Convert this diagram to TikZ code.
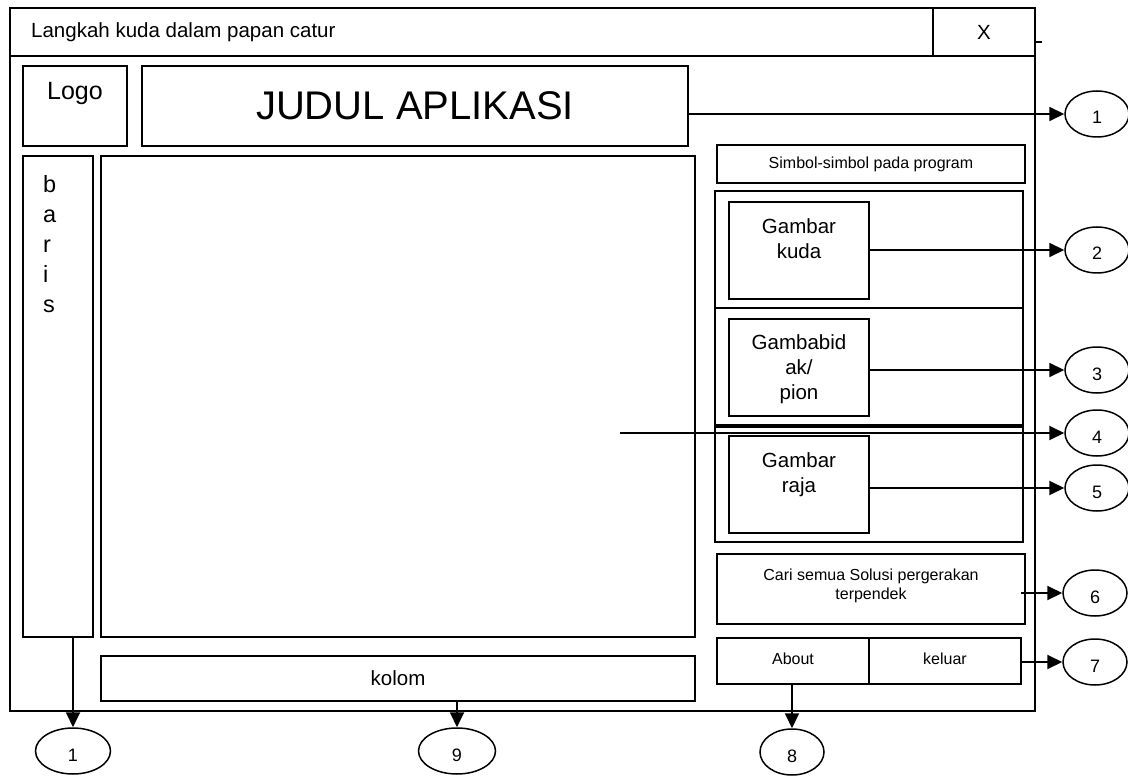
\documentclass[tikz,border=0pt]{standalone}
\usepackage{fontspec}
\setmainfont{Liberation Sans}
\usetikzlibrary{arrows.meta,shapes.geometric}
\tikzset{
	box/.style={draw,rectangle,line width=1.5pt,inner sep=0pt},
	numbered/.style={draw,ellipse,line width=1.5pt,minimum width=64pt,minimum height=46pt,inner sep=0pt,text height=20pt,text depth=0pt,font=\fontsize{18}{21}\selectfont},
	pointer/.style={-{Triangle[length=15pt,width=14pt]},line width=2pt},
	midtext/.style={font=\fontsize{20.5}{25}\selectfont},
	smalltext/.style={font=\fontsize{16}{19}\selectfont},
	intext/.style={inner sep=0pt,align=center}
}
\begin{document}
\begin{tikzpicture}[x=1pt,y=-1pt]
	\useasboundingbox (0,0) rectangle (1128,778);
	\node[box,minimum width=923pt,minimum height=48pt] (bar) at (471.5,32) {};
	\node[midtext,anchor=west,inner sep=0pt] (caption) at (31,32) {Langkah kuda dalam papan catur};
	\node[box,midtext,minimum width=102pt,minimum height=48pt] (close) at (984,32) {X};
	\node[box,minimum width=1025pt,minimum height=655pt] (win) at (522.5,383.5) {};
	\draw[line width=1.5pt] ([yshift=-10pt]close.east) -- ++(6,0);
	
	\node[box,minimum width=104pt,minimum height=80pt,label={[intext,below=17pt,font=\fontsize{25}{30}\selectfont]north:Logo}] (logo) at (75,106) {};
	\node[box,minimum width=546pt,minimum height=80pt,font=\fontsize{40}{48}\selectfont] (judul) at (415,106) {JUDUL APLIKASI};
	
	\node[box,minimum width=70pt,minimum height=481pt] (baris) at (58,396.5) {};
	\node[font=\fontsize{23.5}{30}\selectfont,align=left,anchor=north west,inner sep=0pt] (baristext) at (43,175) {b\\a\\r\\i\\s};
	\node[box,minimum width=594pt,minimum height=481pt] (board) at (398,396.5) {};
	\coordinate (boardmid) at (620,433);
	\node[box,midtext,minimum width=594pt,minimum height=45pt] (kolom) at (398,678.5) {kolom};
	
	\node[box,smalltext,minimum width=308pt,minimum height=38pt] (simbol) at (871,164) {Simbol-simbol pada program};
	\node[box,minimum width=308pt,minimum height=117pt] (panela) at (869,249.5) {};
	\node[box,minimum width=308pt,minimum height=117pt] (panelb) at (869,366.5) {};
	\node[box,minimum width=308pt,minimum height=115pt] (panelc) at (869,484.5) {};
	\node[box,minimum width=140pt,minimum height=97pt,label={[intext,midtext,below=17pt]north:Gambar\\kuda}] (kuda) at (799,250.5) {};
	\node[box,minimum width=140pt,minimum height=97pt,label={[intext,midtext,below=16pt]north:Gambabid\\ak/\\pion}] (pion) at (799,367.5) {};
	\node[box,minimum width=140pt,minimum height=97pt,label={[intext,midtext,below=17pt]north:Gambar\\raja}] (raja) at (799,484.5) {};
	\node[box,minimum width=308pt,minimum height=70pt,label={[intext,smalltext,below=15pt]north:Cari semua Solusi pergerakan\\terpendek}] (cari) at (871,589) {};
	\coordinate (cariend) at (1021,593);
	\node[box,smalltext,minimum width=152pt,minimum height=46pt,text height=6.5pt,text depth=0pt] (about) at (793,661) {About};
	\node[box,smalltext,minimum width=152pt,minimum height=46pt,text height=6.5pt,text depth=0pt] (keluar) at (945,661) {keluar};
	
	\node[numbered] (n1) at (1097,114) {1};
	\node[numbered] (n2) at (1097,250) {2};
	\node[numbered] (n3) at (1097,370) {3};
	\node[numbered] (n4) at (1097,433) {4};
	\node[numbered] (n5) at (1097,488) {5};
	\node[numbered] (n6) at (1095,593) {6};
	\node[numbered] (n7) at (1095,662) {7};
	\node[numbered] (n8) at (792,752) {8};
	\node[numbered,minimum width=77pt] (n9) at (457,751) {9};
	\node[numbered,minimum width=75pt] (m1) at (73,751) {1};
	
	\draw[pointer] (judul.east |- n1) -- (n1);
	\draw[pointer] (kuda.east |- n2) -- (n2);
	\draw[pointer] (pion.east |- n3) -- (n3);
	\draw[pointer] (boardmid) -- (n4);
	\draw[pointer] (raja.east |- n5) -- (n5);
	\draw[pointer] (cariend) -- (n6);
	\draw[pointer] (keluar.east |- n7) -- (n7);
	\draw[pointer] (about.south -| n8) -- (n8);
	\draw[pointer] (kolom.south -| n9) -- (n9);
	\draw[pointer] (baris.south -| m1) -- (m1);
\end{tikzpicture}
\end{document}
